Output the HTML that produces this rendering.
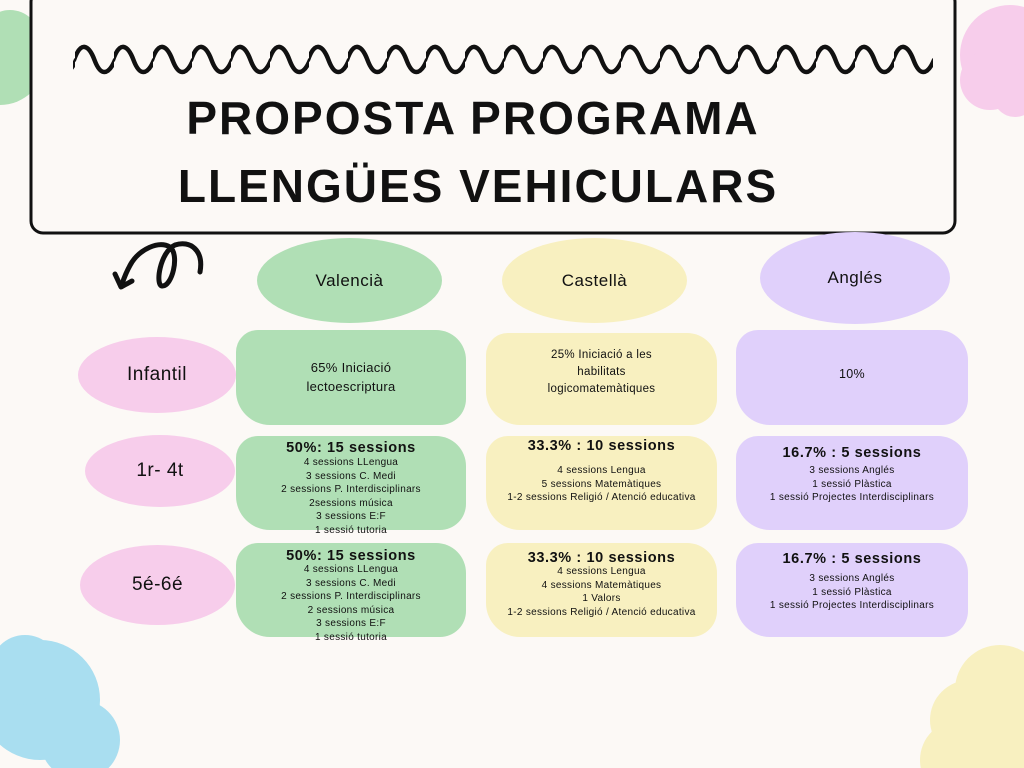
<!DOCTYPE html>
<html><head><meta charset="utf-8"><style>
body{margin:0;width:1024px;height:768px;overflow:hidden;background:#fcf9f6;position:relative;font-family:"Comic Sans MS","Liberation Sans",sans-serif;color:#111}
.a{position:absolute}
.el{position:absolute;border-radius:50%;display:flex;align-items:center;justify-content:center;font-size:17px;letter-spacing:.5px}
.bx{position:absolute;border-radius:22px 30px 26px 34px;text-align:center;font-size:10px;line-height:13.5px;letter-spacing:.3px;box-sizing:border-box}
.bx b{font-size:14.5px;display:block;line-height:16px;letter-spacing:.6px}
.g{background:#b0dfb5}.y{background:#f8f0c0}.p{background:#e0d0fb}.k{background:#f7cdeb}
</style></head><body>
<svg class="a" style="left:0;top:0" width="1024" height="768">
<defs><pattern id="z" x="75" y="40" width="39" height="40" patternUnits="userSpaceOnUse">
<path d="M-1,20 Q4,6 9.75,7 Q15,8 19.5,20 Q24,32 29.25,32 Q35,32 40,20" fill="none" stroke="#111" stroke-width="4.5" stroke-linecap="round"/></pattern></defs>
<circle cx="0" cy="60" r="45" fill="#b0dfb5"/><circle cx="10" cy="40" r="30" fill="#b0dfb5"/>
<circle cx="1010" cy="55" r="50" fill="#f7cdeb"/><circle cx="990" cy="80" r="30" fill="#f7cdeb"/><circle cx="1015" cy="95" r="22" fill="#f7cdeb"/>
<circle cx="40" cy="700" r="60" fill="#a9def0"/><circle cx="25" cy="670" r="35" fill="#a9def0"/><circle cx="80" cy="740" r="40" fill="#a9def0"/>
<circle cx="1000" cy="690" r="45" fill="#f8f0c0"/><circle cx="970" cy="720" r="40" fill="#f8f0c0"/><circle cx="960" cy="760" r="40" fill="#f8f0c0"/><circle cx="1010" cy="740" r="50" fill="#f8f0c0"/>
<rect x="31" y="-10" width="924" height="243" rx="12" fill="#fcf9f6" stroke="#111" stroke-width="3"/>
<rect x="73" y="43" width="860" height="33" fill="url(#z)"/>
<path d="M200,272 C204,250 190,240 175,245 C160,252 155,285 162,286 C172,287 180,255 170,247 C158,240 140,250 132,262 C127,270 124,278 122,284" fill="none" stroke="#111" stroke-width="5" stroke-linecap="round"/>
<path d="M115,274 L121,287 L132,281" fill="none" stroke="#111" stroke-width="5" stroke-linecap="round" stroke-linejoin="round"/>
</svg>
<div class="a" style="left:0;width:946px;top:84px;text-align:center;font-size:46px;font-weight:bold;letter-spacing:2px;line-height:68px">PROPOSTA PROGRAMA<br><span style="position:relative;left:5px">LLENGÜES VEHICULARS</span></div>
<div class="el g" style="left:257px;top:238px;width:185px;height:85px">Valencià</div>
<div class="el y" style="left:502px;top:238px;width:185px;height:85px">Castellà</div>
<div class="el p" style="left:760px;top:232px;width:190px;height:92px">Anglés</div>
<div class="el k" style="left:78px;top:337px;width:158px;height:76px;font-size:19px">Infantil</div>
<div class="el k" style="left:85px;top:435px;width:150px;height:72px;font-size:19px">1r- 4t</div>
<div class="el k" style="left:80px;top:545px;width:155px;height:80px;font-size:19px">5é-6é</div>

<div class="bx g" style="left:236px;top:330px;width:230px;height:95px;padding-top:28px;font-size:13px;line-height:19px">65% Iniciació<br>lectoescriptura</div>
<div class="bx y" style="left:486px;top:333px;width:231px;height:92px;padding-top:14px;font-size:11.5px;line-height:17px">25% Iniciació a les<br>habilitats<br>logicomatemàtiques</div>
<div class="bx p" style="left:736px;top:330px;width:232px;height:95px;padding-top:38px;font-size:12.5px">10%</div>

<div class="bx g" style="left:236px;top:436px;width:230px;height:94px;padding-top:4px"><b>50%: 15 sessions</b>4 sessions LLengua<br>3 sessions C. Medi<br>2 sessions P. Interdisciplinars<br>2sessions música<br>3 sessions E:F<br>1 sessió tutoria</div>
<div class="bx y" style="left:486px;top:436px;width:231px;height:94px;padding-top:2px"><b>33.3% : 10 sessions</b><div style="height:10px"></div>4 sessions Lengua<br>5 sessions Matemàtiques<br>1-2 sessions Religió / Atenció educativa</div>
<div class="bx p" style="left:736px;top:436px;width:232px;height:94px;padding-top:9px"><b>16.7% : 5 sessions</b><div style="height:3px"></div>3 sessions Anglés<br>1 sessió Plàstica<br>1 sessió Projectes Interdisciplinars</div>

<div class="bx g" style="left:236px;top:543px;width:230px;height:94px;padding-top:7px"><b style="line-height:13px">50%: 15 sessions</b>4 sessions LLengua<br>3 sessions C. Medi<br>2 sessions P. Interdisciplinars<br>2 sessions música<br>3 sessions E:F<br>1 sessió tutoria</div>
<div class="bx y" style="left:486px;top:543px;width:231px;height:94px;padding-top:8px"><b style="line-height:14px">33.3% : 10 sessions</b>4 sessions Lengua<br>4 sessions Matemàtiques<br>1 Valors<br>1-2 sessions Religió / Atenció educativa</div>
<div class="bx p" style="left:736px;top:543px;width:232px;height:94px;padding-top:8px"><b>16.7% : 5 sessions</b><div style="height:5px"></div>3 sessions Anglés<br>1 sessió Plàstica<br>1 sessió Projectes Interdisciplinars</div>
</body></html>
